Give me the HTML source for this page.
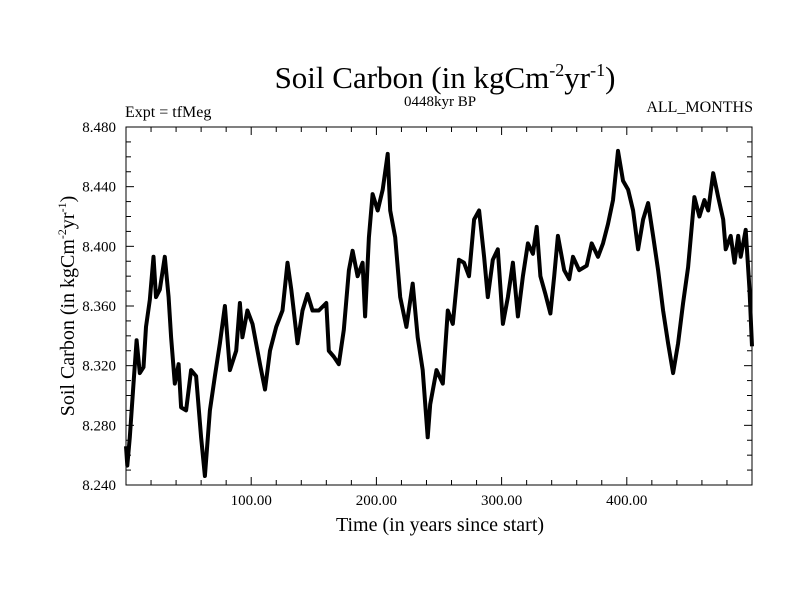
<!DOCTYPE html>
<html><head><meta charset="utf-8"><style>
body{margin:0;background:#fff;}
svg text{font-family:"Liberation Serif",serif;fill:#000;}
</style></head><body>
<svg id="chart" width="800" height="600" xmlns="http://www.w3.org/2000/svg">
<text x="445" y="88" font-size="31" text-anchor="middle">Soil Carbon (in kgCm<tspan font-size="18" dy="-12">-2</tspan><tspan dy="12">yr</tspan><tspan font-size="18" dy="-12">-1</tspan><tspan dy="12">)</tspan></text>
<text x="125" y="117" font-size="16">Expt = tfMeg</text>
<text x="440" y="106" font-size="15" text-anchor="middle">0448kyr BP</text>
<text x="753" y="112" font-size="16" text-anchor="end">ALL_MONTHS</text>
<text transform="translate(74,306) rotate(-90)" font-size="20" text-anchor="middle">Soil Carbon (in kgCm<tspan font-size="12" dy="-8">-2</tspan><tspan dy="8">yr</tspan><tspan font-size="12" dy="-8">-1</tspan><tspan dy="8">)</tspan></text>
<text x="440" y="531" font-size="20" text-anchor="middle">Time (in years since start)</text>
<g id="axes"></g>
<path id="series" fill="none" stroke="#000" stroke-width="4" stroke-linejoin="round"/>
<rect x="126" y="127" width="626" height="358" fill="none" stroke="#000" stroke-width="1"/>
</svg>
<script>
const years=[0,1,3,6,8.5,11,14,16,19,22,24,27,31,34,36,39,42,44,48,52,56,60,63,67,71,75,79,83,88,91,93,97,101,107,111,115,120,125,129,132,137,141,145,149,154,160,162,166,170,174,178,181,185,189,191,194,197,201,205,209,211,215,219,224,229,233,237,241,243,248,253,257,261,266,270,274,278,282,286,289,293,297,301,305,309,313,317,321,325,328,331,335,339,342,345,350,354,357,362,368,372,377,381,385,389,393,397,401,405,409,413,417,421,425,429,433,437,441,445,449,454,458,462,465,469,473,477,479,483,486,489,491,495,498,500];
const values=[8.266,8.253,8.272,8.308,8.337,8.315,8.319,8.346,8.364,8.393,8.366,8.371,8.393,8.366,8.339,8.308,8.321,8.292,8.290,8.317,8.313,8.272,8.246,8.290,8.313,8.335,8.360,8.317,8.330,8.362,8.339,8.357,8.348,8.321,8.304,8.330,8.346,8.357,8.389,8.371,8.335,8.357,8.368,8.357,8.357,8.362,8.330,8.326,8.321,8.344,8.384,8.397,8.380,8.389,8.353,8.406,8.435,8.424,8.438,8.462,8.424,8.406,8.366,8.346,8.375,8.339,8.317,8.272,8.294,8.317,8.308,8.357,8.348,8.391,8.389,8.380,8.418,8.424,8.393,8.366,8.391,8.398,8.348,8.366,8.389,8.353,8.380,8.402,8.395,8.413,8.380,8.368,8.355,8.380,8.407,8.384,8.378,8.393,8.384,8.387,8.402,8.393,8.402,8.415,8.431,8.464,8.444,8.438,8.424,8.398,8.418,8.429,8.407,8.384,8.357,8.335,8.315,8.335,8.362,8.386,8.433,8.420,8.431,8.424,8.449,8.433,8.418,8.398,8.407,8.389,8.407,8.393,8.411,8.371,8.333];
const yTicks=[8.240,8.280,8.320,8.360,8.400,8.440,8.480];
const xTicks=[100,200,300,400];
const X0=126,X1=752,Y0=485,Y1=127,xMin=0,xMax=500,yMin=8.24,yMax=8.48;
const sx=v=>X0+(v-xMin)/(xMax-xMin)*(X1-X0);
const sy=v=>Y0-(v-yMin)/(yMax-yMin)*(Y0-Y1);
const NS="http://www.w3.org/2000/svg";
const g=document.getElementById('axes');
function line(x1,y1,x2,y2,name){const l=document.createElementNS(NS,'line');l.setAttribute('x1',x1);l.setAttribute('y1',y1);l.setAttribute('x2',x2);l.setAttribute('y2',y2);l.setAttribute('stroke','#000');


g.appendChild(l);}
function text(x,y,s,anchor,name){const t=document.createElementNS(NS,'text');t.setAttribute('x',x);t.setAttribute('y',y);t.setAttribute('font-size','15');t.setAttribute('text-anchor',anchor);t.textContent=s;


g.appendChild(t);}
for(let v=0;v<=500;v+=20){const x=sx(v);const major=v%100===0;const L=major?8:5;line(x,Y0,x,Y0-L,'x-tick');line(x,Y1,x,Y1+L,'x-tick');}
for(let i=0;i<=24;i++){const v=yMin+i*0.01;const y=sy(v);const L=i%4===0?8:5;line(X0,y,X0+L,y,'y-tick');line(X1,y,X1-L,y,'y-tick');}
xTicks.forEach(v=>text(sx(v),505,v.toFixed(2),'middle','x-tick-label'));
yTicks.forEach(v=>text(116,sy(v)+5,v.toFixed(3),'end','y-tick-label'));
let d='';years.forEach((y,i)=>{d+=(i?'L':'M')+sx(y).toFixed(1)+','+sy(values[i]).toFixed(1);});
document.getElementById('series').setAttribute('d',d);
</script>
</body></html>
